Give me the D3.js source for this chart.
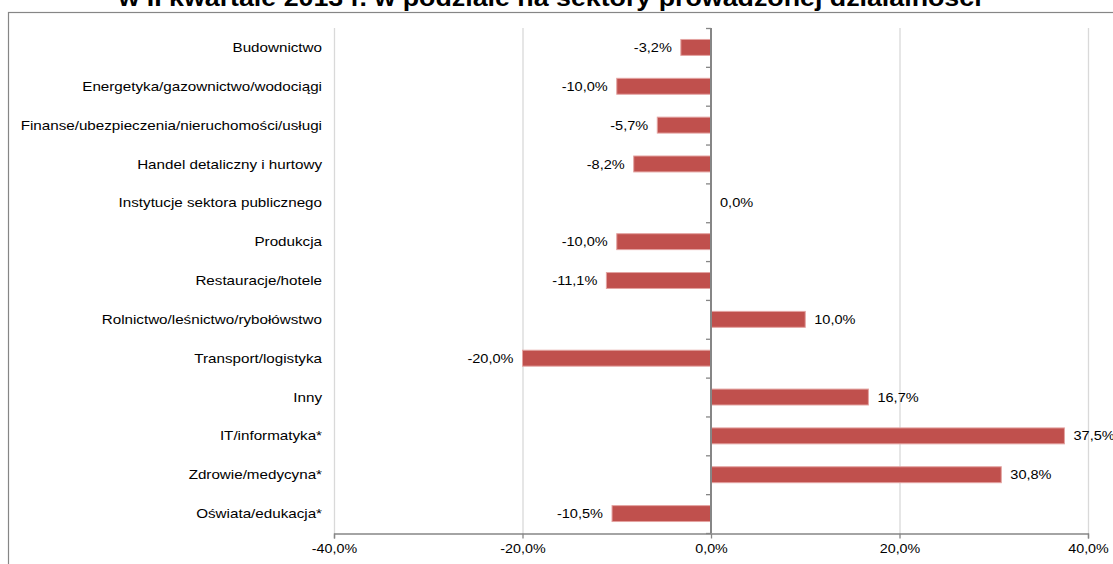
<!DOCTYPE html>
<html>
<head>
<meta charset="utf-8">
<script src="https://cdn.jsdelivr.net/npm/d3@7"></script>
<style>
  body { margin: 0; background: #fff; }
  svg { display: block; font-family: "Liberation Sans", Arial, sans-serif; }
</style>
</head>
<body>
<svg id="chart" width="1113" height="564"></svg>
<script>
// sectors, top to bottom
const categories = [
  "Budownictwo",
  "Energetyka/gazownictwo/wodociągi",
  "Finanse/ubezpieczenia/nieruchomości/usługi",
  "Handel detaliczny i hurtowy",
  "Instytucje sektora publicznego",
  "Produkcja",
  "Restauracje/hotele",
  "Rolnictwo/leśnictwo/rybołówstwo",
  "Transport/logistyka",
  "Inny",
  "IT/informatyka*",
  "Zdrowie/medycyna*",
  "Oświata/edukacja*"
];
const values = [-3.2, -10.0, -5.7, -8.2, 0.0, -10.0, -11.1, 10.0, -20.0, 16.7, 37.5, 30.8, -10.5];
const xTicks = [-40, -20, 0, 20, 40];
const title = "w II kwartale 2013 r. w podziale na sektory prowadzonej działalności";

const svg = d3.select("#chart");
const W = 1113, H = 564;
const fmt = v => d3.format(".1f")(v).replace(".", ",").replace("−", "-") + "%";
const stretch = 1.17; // the source text is drawn a bit wide

const x = d3.scaleLinear().domain([-40, 40]).range([334, 1088]);
const y = d3.scaleBand().domain(categories).range([28, 533]).paddingInner(0.59).paddingOuter(0.295);

// outer chart border (cut off on the right and bottom)
svg.append("rect")
  .attr("x", 8.5).attr("y", 12.5)
  .attr("width", W + 10).attr("height", H + 10)
  .attr("fill", "none").attr("stroke", "#868686").attr("stroke-width", 1.2);

// title, mostly above the picture
svg.append("text")
  .attr("transform", "translate(550,6) scale(1.165,1)")
  .attr("text-anchor", "middle")
  .attr("font-weight", "bold")
  .attr("font-size", 23)
  .attr("fill", "#000")
  .text(title);

// gridlines
svg.append("g")
  .selectAll("line")
  .data(xTicks.filter(d => d !== 0))
  .join("line")
  .attr("x1", d => x(d) + 0.5).attr("x2", d => x(d) + 0.5)
  .attr("y1", 28).attr("y2", 533)
  .attr("stroke", "#d9d9d9").attr("stroke-width", 1.3);

// bars
svg.append("g")
  .selectAll("rect")
  .data(values)
  .join("rect")
  .attr("x", d => x(Math.min(0, d)))
  .attr("width", d => Math.abs(x(d) - x(0)))
  .attr("y", (d, i) => y(categories[i]))
  .attr("height", y.bandwidth())
  .attr("fill", "#c0504d")
  .attr("stroke", "#e3a3a1")
  .attr("stroke-width", d => d === 0 ? 0 : 1);

// bottom axis
const xAxis = d3.axisBottom(x).tickValues(xTicks).tickSize(5).tickFormat(fmt);
const gx = svg.append("g").attr("transform", "translate(0,533.5)").call(xAxis);
gx.select(".domain").attr("stroke", "#868686").attr("stroke-width", 1.3);
gx.selectAll(".tick line").attr("stroke", "#868686").attr("stroke-width", 1.3);
gx.selectAll(".tick text")
  .attr("y", 0).attr("dy", 0)
  .attr("transform", `translate(0,19) scale(${stretch - 0.07},1)`)
  .attr("fill", "#000")
  .attr("font-size", 13)
  .attr("font-family", "Liberation Sans, Arial, sans-serif");

// vertical axis at zero with ticks between categories
const yb = categories.map((c, i) => 28 + i * (505 / categories.length));
yb.push(533);
const gy = svg.append("g");
gy.append("line")
  .attr("x1", x(0)).attr("x2", x(0))
  .attr("y1", 28).attr("y2", 533)
  .attr("stroke", "#868686").attr("stroke-width", 2);
gy.selectAll("line.tk")
  .data(yb)
  .join("line").attr("class", "tk")
  .attr("x1", x(0) - 5).attr("x2", x(0))
  .attr("y1", d => d + 0.5).attr("y2", d => d + 0.5)
  .attr("stroke", "#868686").attr("stroke-width", 1.3);

// category labels
svg.append("g")
  .selectAll("text")
  .data(categories)
  .join("text")
  .attr("transform", d => `translate(322,${y(d) + y.bandwidth() / 2}) scale(${stretch},1)`)
  .attr("dy", "0.35em")
  .attr("text-anchor", "end")
  .attr("font-size", 13)
  .attr("fill", "#000")
  .text(d => d);

// value labels
svg.append("g")
  .selectAll("text")
  .data(values)
  .join("text")
  .attr("transform", (d, i) => `translate(${d < 0 ? x(d) - 9 : x(d) + 9},${y(categories[i]) + y.bandwidth() / 2}) scale(${stretch - 0.05},1)`)
  .attr("dy", "0.35em")
  .attr("text-anchor", d => d < 0 ? "end" : "start")
  .attr("font-size", 13)
  .attr("fill", "#000")
  .text(fmt);
</script>
</body>
</html>
